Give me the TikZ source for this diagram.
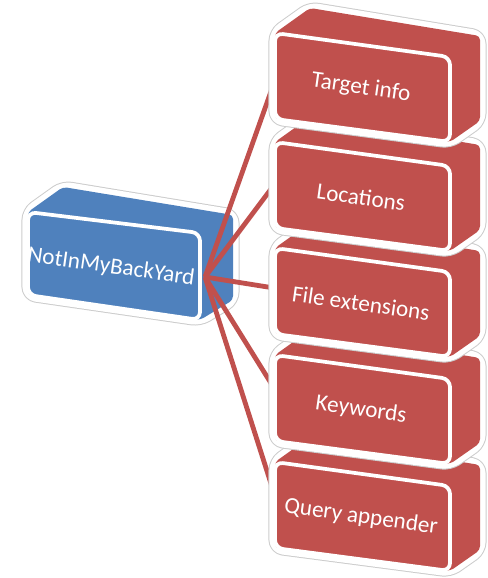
\documentclass[tikz,border=0pt]{standalone}
\usepackage{fontspec}
\setmainfont{Carlito}
\definecolor{boxred}{HTML}{C0504D}
\definecolor{boxblue}{HTML}{4F81BD}
\tikzset{
  halo/.style={draw=black!20, line width=9.8pt, rounded corners=6pt, line join=round},
  band/.style={draw=white, line width=8.3pt, rounded corners=6pt, line join=round},
  face/.style={draw=white, line width=2.8pt, rounded corners=6pt, line join=round},
  link/.style={draw=boxred, line width=3.6pt},
  lbl/.style={text=white, font=\fontsize{17.4}{21}\selectfont, rotate=-8, inner sep=0pt},
}
\newcommand\solidbox[3]{%
  \draw[halo] #2 -- cycle;
  \draw[band] #2 -- cycle;
  \fill[#1, rounded corners=3pt] #2 -- cycle;
  \draw[face, fill=#1] #3 -- cycle;
}
\newcommand\redblock[3]{%
  \begin{scope}[shift={(275,#1)}]
    \solidbox{boxred}{(0,0) -- (35,-25) -- (205,3) -- (205,88) -- (175,109) -- (0,86)}{(0,0) -- (175,24) -- (175,109) -- (0,86)}
    \node[lbl] (#2) at (86,55) {#3};
  \end{scope}
}
\begin{document}
\begin{tikzpicture}[x=0.75pt,y=-0.75pt]
\useasboundingbox (0,0) rectangle (487,578);
% root box
\solidbox{boxblue}{(28,212) -- (63,187) -- (233,215) -- (233,300) -- (200,320) -- (28,295)}{(28,212) -- (200,233) -- (200,320) -- (28,295)}
\node[lbl] (root) at (111,267) {NotInMyBackYard};
% connectors
\coordinate (hub) at (205,277);
\coordinate (e1) at (274,83);
\coordinate (e2) at (274,185);
\coordinate (e3) at (274,288);
\coordinate (e4) at (274,388);
\coordinate (e5) at (274,493);
\draw[link] (hub) -- (e1);
\draw[link] (hub) -- (e2);
\draw[link] (hub) -- (e3);
\draw[link] (hub) -- (e4);
\draw[link] (hub) -- (e5);
% child boxes, lowest first
\redblock{462}{qa}{Query appender}
\redblock{355}{kw}{Keywords}
\redblock{248}{fext}{File extensions}
\redblock{142}{loc}{Locations}
\redblock{33}{tinfo}{Target info}
\end{tikzpicture}
\end{document}
